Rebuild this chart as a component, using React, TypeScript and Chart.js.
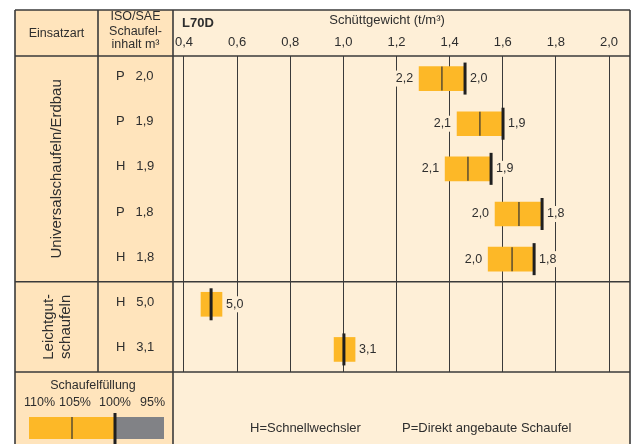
import React, { useEffect, useRef } from 'react';
import { Chart, registerables } from 'chart.js';

Chart.register(...registerables);

// ---- data ----
const bucketTypes = ['P', 'P', 'H', 'P', 'H', 'H', 'H'];
const bucketSizes = ['2,0', '1,9', '1,9', '1,8', '1,8', '5,0', '3,1'];
const barStart = [1.285, 1.428, 1.383, 1.571, 1.545, 0.464, 0.965];
const barEnd = [1.458, 1.601, 1.556, 1.748, 1.718, 0.543, 1.044];
const fill105: (number | null)[] = [1.371, 1.514, 1.469, 1.661, 1.635, null, null];
const fill100 = [1.458, 1.601, 1.556, 1.748, 1.718, 0.502, 1.002];
const leftLabels = ['2,2', '2,1', '2,1', '2,0', '2,0', '', ''];
const rightLabels = ['2,0', '1,9', '1,9', '1,8', '1,8', '5,0', '3,1'];
const tickValues = [0.4, 0.6, 0.8, 1.0, 1.2, 1.4, 1.6, 1.8, 2.0];
const tickLabels = ['0,4', '0,6', '0,8', '1,0', '1,2', '1,4', '1,6', '1,8', '2,0'];
const legendPercents = ['110%', '105%', '100%', '95%'];
const groupNames = ['Universalschaufeln/Erdbau', 'Leichtgut-|schaufeln'];

const FONT = '"Liberation Sans", Arial, Helvetica, sans-serif';
const TEXT = '#2e2e2e';
const ORANGE = '#FDB827';
const GREY = '#818286';
const LINE = '#3a3a3a';
const BG_LEFT = '#FFE4BC';
const BG_CHART = '#FEEFD7';

const tablePlugin = {
  id: 'tablePlugin',
  beforeDraw(chart: any) {
    const ctx = chart.ctx;
    const a = chart.chartArea;
    ctx.save();
    ctx.fillStyle = '#ffffff';
    ctx.fillRect(0, 0, chart.width, chart.height);
    ctx.fillStyle = BG_LEFT;
    ctx.fillRect(15, 10, a.left - 15, chart.height);
    ctx.fillStyle = BG_CHART;
    ctx.fillRect(a.left, 10, a.right - a.left, chart.height);
    ctx.restore();
  },
  afterDatasetsDraw(chart: any) {
    const ctx = chart.ctx;
    const x = chart.scales.x;
    const y = chart.scales.y;
    const bars = chart.getDatasetMeta(0).data;
    ctx.save();
    bars.forEach((bar: any, i: number) => {
      const cy = bar.y;
      const h = bar.height;
      // 105% thin line
      const v105 = fill105[i];
      if (v105 !== null) {
        const px = x.getPixelForValue(v105);
        ctx.strokeStyle = '#333';
        ctx.lineWidth = 1.2;
        ctx.beginPath();
        ctx.moveTo(px, cy - h / 2);
        ctx.lineTo(px, cy + h / 2);
        ctx.stroke();
      }
      // 100% thick line
      const p100 = x.getPixelForValue(fill100[i]);
      ctx.strokeStyle = '#1f1f1f';
      ctx.lineWidth = 3;
      ctx.beginPath();
      ctx.moveTo(p100, cy - h / 2 - 4);
      ctx.lineTo(p100, cy + h / 2 + 4);
      ctx.stroke();

      ctx.font = '12.5px ' + FONT;
      ctx.textBaseline = 'middle';
      // left label
      if (leftLabels[i]) {
        const px = x.getPixelForValue(barStart[i]) - 6;
        const w = ctx.measureText(leftLabels[i]).width;
        ctx.fillStyle = BG_CHART;
        ctx.fillRect(px - w - 1, cy - 8, w + 2, 16);
        ctx.fillStyle = TEXT;
        ctx.textAlign = 'right';
        ctx.fillText(leftLabels[i], px, cy);
      }
      if (rightLabels[i]) {
        const px = Math.max(x.getPixelForValue(barEnd[i]), p100 + 1) + 4;
        const w = ctx.measureText(rightLabels[i]).width;
        ctx.fillStyle = BG_CHART;
        ctx.fillRect(px - 1, cy - 8, w + 2, 16);
        ctx.fillStyle = TEXT;
        ctx.textAlign = 'left';
        ctx.fillText(rightLabels[i], px, cy);
      }
    });
    ctx.restore();
    void y;
  },
  afterDraw(chart: any) {
    const ctx = chart.ctx;
    const a = chart.chartArea;
    const y = chart.scales.y;
    const L = 15, T = 10, R = a.right, C1 = 98, C2 = a.left;
    const split = y.getPixelForValue(4.5);
    const H = chart.height + 5;
    ctx.save();
    ctx.strokeStyle = LINE;
    ctx.lineWidth = 1.6;
    const line = (x1: number, y1: number, x2: number, y2: number) => {
      ctx.beginPath();
      ctx.moveTo(x1, y1);
      ctx.lineTo(x2, y2);
      ctx.stroke();
    };
    // outer border
    line(L, T, R, T);
    line(L, T, L, H);
    line(R, T, R, H);
    line(C1, T, C1, a.bottom);
    line(C2, T, C2, H);
    line(L, a.top, R, a.top);
    line(L, split, R, split);
    line(L, a.bottom, R, a.bottom);

    // header texts
    ctx.fillStyle = TEXT;
    ctx.textBaseline = 'middle';
    ctx.textAlign = 'center';
    ctx.font = '12.5px ' + FONT;
    ctx.fillText('Einsatzart', (L + C1) / 2, 34);
    ctx.fillText('ISO/SAE', (C1 + C2) / 2, 17);
    ctx.fillText('Schaufel-', (C1 + C2) / 2, 32);
    ctx.fillText('inhalt m³', (C1 + C2) / 2, 45);
    ctx.font = '13px ' + FONT;
    ctx.fillText('Schüttgewicht (t/m³)', 387, 20);
    ctx.font = 'bold 13px ' + FONT;
    ctx.textAlign = 'left';
    ctx.fillText('L70D', 182, 23);

    // group labels rotated
    ctx.font = '15px ' + FONT;
    ctx.textAlign = 'center';
    const g1 = (a.top + split) / 2;
    ctx.save();
    ctx.translate(57, g1);
    ctx.rotate(-Math.PI / 2);
    ctx.fillText(groupNames[0], 0, 0);
    ctx.restore();
    const g2 = (split + a.bottom) / 2;
    const parts = groupNames[1].split('|');
    ctx.save();
    ctx.translate(49, g2);
    ctx.rotate(-Math.PI / 2);
    ctx.fillText(parts[0], 0, 0);
    ctx.restore();
    ctx.save();
    ctx.translate(66, g2);
    ctx.rotate(-Math.PI / 2);
    ctx.fillText(parts[1], 0, 0);
    ctx.restore();

    // legend (bottom left)
    ctx.font = '12.5px ' + FONT;
    ctx.textAlign = 'center';
    ctx.fillText('Schaufelfüllung', 93, 386);
    ctx.textAlign = 'left';
    const px = [24, 59, 99, 140];
    legendPercents.forEach((t, i) => ctx.fillText(t, px[i], 403));
    ctx.fillStyle = ORANGE;
    ctx.fillRect(29, 417, 86, 22);
    ctx.fillStyle = GREY;
    ctx.fillRect(115, 417, 49, 22);
    ctx.strokeStyle = '#333';
    ctx.lineWidth = 1.2;
    line(72, 417, 72, 439);
    ctx.strokeStyle = '#1f1f1f';
    ctx.lineWidth = 3;
    line(115, 413, 115, H);

    // bottom note
    ctx.fillStyle = TEXT;
    ctx.font = '13px ' + FONT;
    ctx.textAlign = 'left';
    ctx.fillText('H=Schnellwechsler', 250, 428);
    ctx.fillText('P=Direkt angebaute Schaufel', 402, 428);
    ctx.restore();
  },
};

export default function App() {
  const ref = useRef<HTMLCanvasElement | null>(null);
  useEffect(() => {
    if (!ref.current) return;
    Chart.defaults.font.family = FONT;
    const labels = bucketTypes.map((t, i) => t + '   ' + bucketSizes[i]);
    const chart = new Chart(ref.current, {
      type: 'bar',
      data: {
        labels,
        datasets: [
          {
            data: barStart.map((s, i) => [s, barEnd[i]]) as any,
            backgroundColor: ORANGE,
            borderWidth: 0,
            barThickness: 24,
          },
        ],
      },
      options: {
        indexAxis: 'y',
        responsive: false,
        animation: false,
        layout: { padding: { left: 116, right: 5, top: 0, bottom: 72 } },
        plugins: { legend: { display: false }, tooltip: { enabled: false } },
        scales: {
          x: {
            type: 'linear',
            position: 'top',
            min: 0.3586,
            max: 2.079,
            afterBuildTicks: (s: any) => {
              s.ticks = tickValues.map((v) => ({ value: v }));
            },
            afterFit: (s: any) => {
              s.height = 56;
            },
            grid: { color: LINE, lineWidth: 1, drawTicks: false },
            border: { display: false },
            ticks: {
              padding: 6,
              color: TEXT,
              autoSkip: false,
              maxRotation: 0,
              font: { size: 13 },
              callback: (_v: any, i: number) => tickLabels[i],
            },
          },
          y: {
            type: 'category',
            position: 'left',
            afterFit: (s: any) => {
              s.width = 57;
            },
            grid: { display: false },
            border: { display: false },
            ticks: { crossAlign: 'far', padding: 0, color: TEXT, font: { size: 13 }, labelOffset: -2 },
          },
        },
      },
      plugins: [tablePlugin],
    } as any);
    return () => chart.destroy();
  }, []);
  return (
    <div style={{ position: 'absolute', left: 0, top: 0, width: 635, height: 444 }}>
      <canvas ref={ref} width={635} height={444} style={{ display: 'block', width: 635, height: 444 }} />
    </div>
  );
}
